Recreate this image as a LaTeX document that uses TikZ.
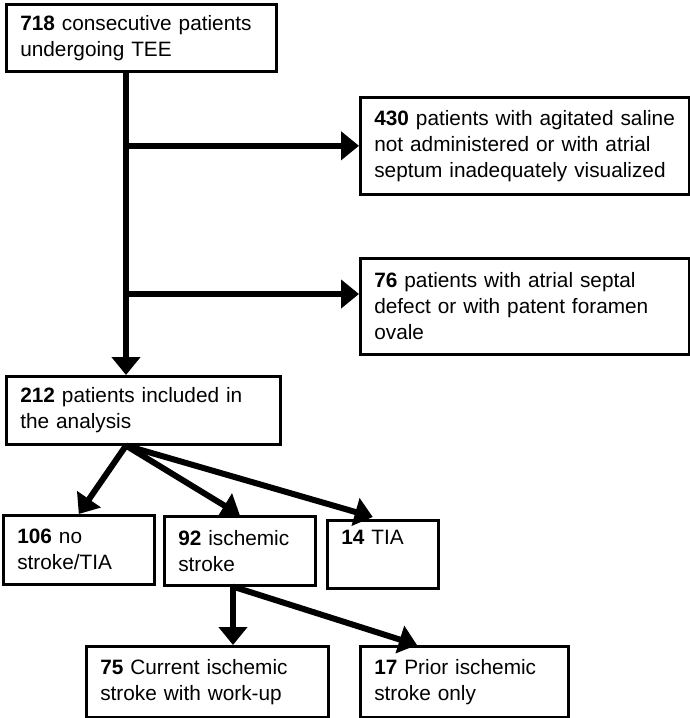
\documentclass[tikz,border=0pt]{standalone}
\usepackage{fontspec}
\setmainfont{Liberation Sans}
\usetikzlibrary{arrows.meta}
\tikzset{
  box/.style={draw, line width=2.6pt, rectangle, anchor=north west, align=left,
    inner xsep=14pt, inner ysep=0pt, font=\fontsize{20.8}{26}\selectfont},
  arr/.style={line width=6pt, -{Triangle[length=18pt,width=28pt]}}
}
\begin{document}
\begin{tikzpicture}[x=1pt,y=-1pt]
\useasboundingbox (0,0) rectangle (689,718);
\node[box, text width=242pt, minimum height=67pt] (b1) at (5,3) {\textbf{718} consecutive patients\\undergoing TEE};
\node[box, text width=301pt, minimum height=97pt] (b430) at (359,96) {\textbf{430} patients with agitated saline\\not administered or with atrial\\septum inadequately visualized};
\node[box, text width=301pt, minimum height=96pt] (b76) at (359,257) {\textbf{76} patients with atrial septal\\defect or with patent foramen\\ovale};
\node[box, text width=246pt, minimum height=68pt] (b212) at (5,375) {\textbf{212} patients included in\\the analysis};
\node[box, text width=123pt, minimum height=69pt] (b106) at (2,514) {\textbf{106} no\\stroke/TIA};
\node[box, text width=123pt, minimum height=69pt] (b92) at (163,515) {\textbf{92} ischemic\\stroke};
\node[box, text width=83pt, minimum height=68pt] (b14) at (326,519) {\textbf{14} TIA\\\strut};
\node[box, text width=214pt, minimum height=71pt] (b75) at (85,645) {\textbf{75} Current ischemic\\stroke with work-up};
\node[box, text width=180pt, minimum height=71pt] (b17) at (359,645) {\textbf{17} Prior ischemic\\stroke only};
% trunk
\coordinate (t1) at ([xshift=121pt]b1.south west);
\coordinate (t2) at ([xshift=121pt]b212.north west);
\draw[arr] (t1) -- (t2);
\coordinate (j1) at (t1 |- b430.west);
\coordinate (j2) at (126,294);
\draw[arr] (j1) -- (b430.west);
\draw[arr] (j2) -- (j2 -| b76.west);
% second level
\coordinate (s212) at ([xshift=121pt]b212.south west);
\draw[arr] (s212) -- (b106.north);
\draw[arr] (s212) -- (b92.north);
\draw[arr] (s212) -- ([xshift=-10pt,yshift=2pt]b14.north);
% third level
\coordinate (s92) at ([xshift=70pt]b92.south west);
\draw[arr] (s92) -- (s92 |- b75.north);
\draw[arr] (s92) -- ([xshift=58pt]b17.north west);
\end{tikzpicture}
\end{document}
